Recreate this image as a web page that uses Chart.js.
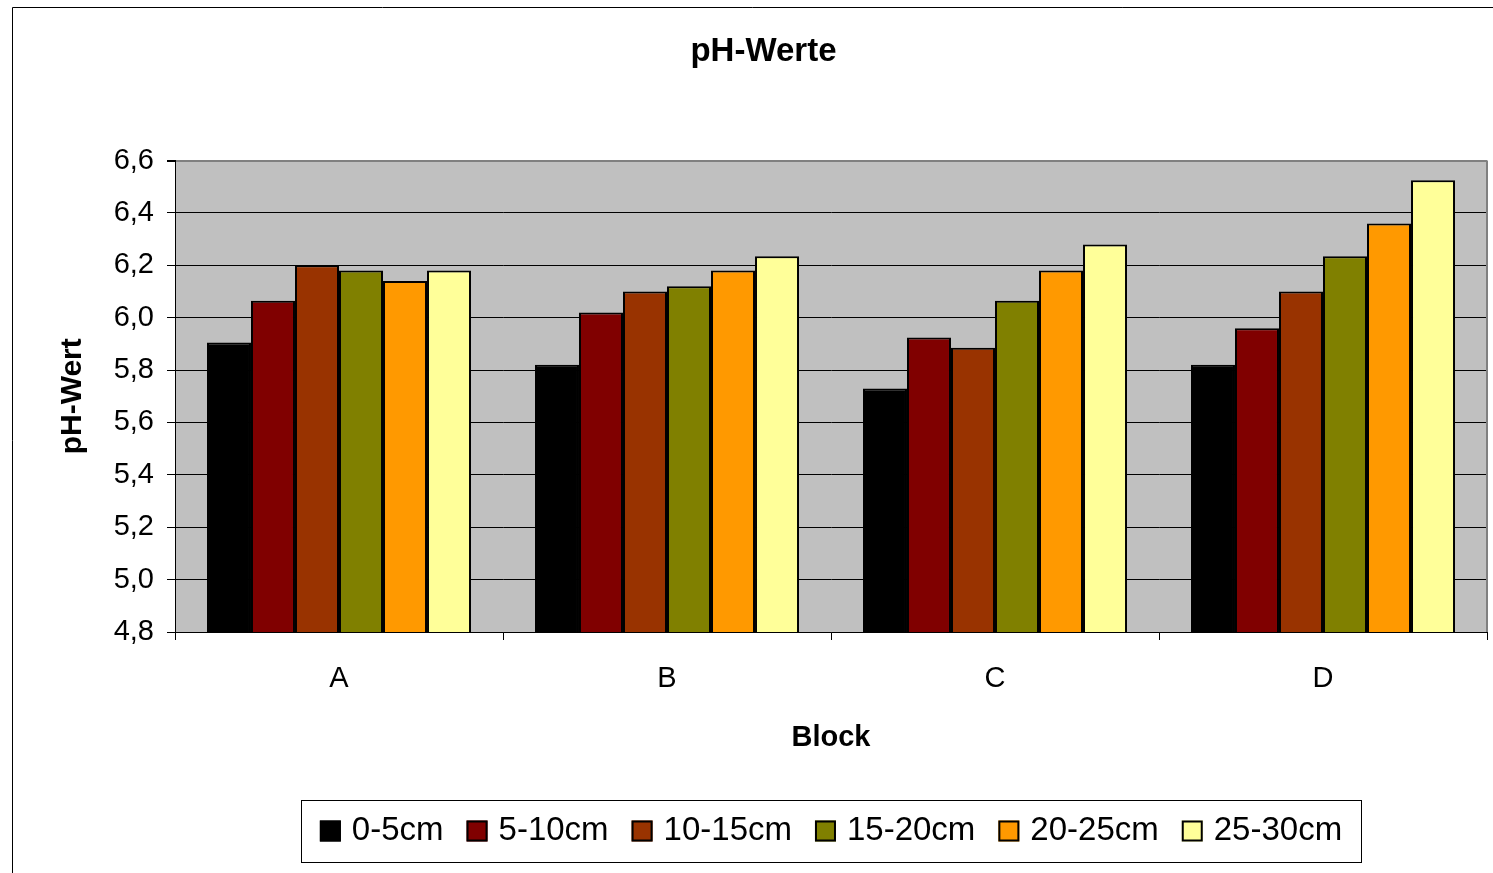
<!DOCTYPE html>
<html lang="de">
<head>
<meta charset="UTF-8">
<title>pH-Werte</title>
<script src="https://cdn.jsdelivr.net/npm/chart.js"></script>
<style>
    body { margin: 0; background: #fff; }
    canvas { display: block; }
</style>
</head>
<body>
<canvas id="phChart" width="1493" height="873"></canvas>
<script>
    const blocks = ['A', 'B', 'C', 'D'];
    const tiefen = ['0-5cm', '5-10cm', '10-15cm', '15-20cm', '20-25cm', '25-30cm'];
    const ph0_5   = [5.905, 5.82, 5.73, 5.82];
    const ph5_10  = [6.065, 6.02, 5.925, 5.96];
    const ph10_15 = [6.20, 6.10, 5.885, 6.10];
    const ph15_20 = [6.18, 6.12, 6.065, 6.235];
    const ph20_25 = [6.14, 6.18, 6.18, 6.36];
    const ph25_30 = [6.18, 6.235, 6.28, 6.525];
    const farben = ['#000000', '#800000', '#993300', '#808000', '#FF9900', '#FFFF99'];

    const FONT = "Arial, 'Liberation Sans', sans-serif";
    const werte = [ph0_5, ph5_10, ph10_15, ph15_20, ph20_25, ph25_30];

    // grauer Hintergrund, Rahmen, eigene Legende
    const rahmenPlugin = {
        id: 'rahmen',
        afterLayout(chart) {
            // Titel sitzt in der Mitte des Rahmens, nicht der Leinwand
            chart.titleBlock.left += 20;
            chart.titleBlock.right += 20;
        },
        beforeDraw(chart) {
            const { ctx, chartArea: a } = chart;
            ctx.save();
            ctx.fillStyle = '#C0C0C0';
            ctx.fillRect(a.left, a.top, a.right - a.left, a.bottom - a.top);
            ctx.restore();
        },
        afterDraw(chart) {
            const { ctx, chartArea: a } = chart;
            ctx.save();
            // rechte Kante der Zeichenfläche
            ctx.strokeStyle = '#808080';
            ctx.lineWidth = 2;
            ctx.beginPath();
            ctx.moveTo(a.right, a.top);
            ctx.lineTo(a.right, a.bottom);
            ctx.stroke();

            // äußerer Rahmen
            ctx.strokeStyle = '#000';
            ctx.lineWidth = 1;
            ctx.beginPath();
            ctx.moveTo(12.5, chart.height);
            ctx.lineTo(12.5, 7.5);
            ctx.lineTo(chart.width, 7.5);
            ctx.stroke();

            // Legende
            const box = { left: 301, top: 800, right: 1361, bottom: 862 };
            ctx.fillStyle = '#fff';
            ctx.fillRect(box.left, box.top, box.right - box.left, box.bottom - box.top);
            ctx.strokeStyle = '#000';
            ctx.strokeRect(box.left + 0.5, box.top + 0.5, box.right - box.left, box.bottom - box.top);

            ctx.font = '33px ' + FONT;
            ctx.textBaseline = 'middle';
            const sq = 21, gap = 11, itemGap = 23;
            const ds = chart.data.datasets;
            let total = 0;
            ds.forEach((d, i) => {
                total += sq + gap + ctx.measureText(d.label).width + (i < ds.length - 1 ? itemGap : 0);
            });
            let x = (box.left + box.right) / 2 - total / 2;
            const cy = (box.top + box.bottom) / 2;
            ds.forEach(d => {
                ctx.fillStyle = d.backgroundColor;
                ctx.fillRect(x, cy - sq / 2, sq, sq);
                ctx.strokeStyle = '#000';
                ctx.lineWidth = 2;
                ctx.strokeRect(x + 1, cy - sq / 2 + 1, sq - 2, sq - 2);
                ctx.fillStyle = '#000';
                ctx.fillText(d.label, x + sq + gap, cy);
                x += sq + gap + ctx.measureText(d.label).width + itemGap;
            });
            ctx.restore();
        }
    };

    const ctx = document.getElementById('phChart').getContext('2d');
    new Chart(ctx, {
        type: 'bar',
        data: {
            labels: blocks,
            datasets: tiefen.map((t, i) => ({
                label: t,
                data: werte[i],
                backgroundColor: farben[i],
                borderColor: '#000',
                borderWidth: 2,
                borderSkipped: 'start'
            }))
        },
        options: {
            responsive: false,
            devicePixelRatio: 1,
            animation: false,
            categoryPercentage: 0.805,
            barPercentage: 1,
            layout: { padding: { left: 0, right: 6, top: 0, bottom: 0 } },
            plugins: {
                legend: { display: false },
                tooltip: { enabled: false },
                title: {
                    display: true,
                    text: 'pH-Werte',
                    color: '#000',
                    font: { family: FONT, size: 33, weight: 'bold' },
                    padding: { top: 32, bottom: 89 }
                }
            },
            scales: {
                y: {
                    min: 4.8,
                    max: 6.6,
                    afterFit(scale) { scale.width = 175; },
                    ticks: {
                        stepSize: 0.2,
                        padding: 13,
                        color: '#000',
                        font: { family: FONT, size: 29 },
                        callback: v => v.toFixed(1).replace('.', ',')
                    },
                    grid: {
                        color: c => (c.tick && Math.abs(c.tick.value - 6.6) < 1e-6) ? '#808080' : '#000',
                        lineWidth: c => (c.tick && Math.abs(c.tick.value - 6.6) < 1e-6) ? 2 : 1,
                        tickColor: '#000',
                        tickLength: 8
                    },
                    border: { color: '#000', width: 1 },
                    title: {
                        display: true,
                        text: 'pH-Wert',
                        color: '#000',
                        font: { family: FONT, size: 30, weight: 'bold' },
                        padding: { top: 55, bottom: 0 }
                    }
                },
                x: {
                    afterFit(scale) { scale.height = 241; },
                    ticks: {
                        padding: 22,
                        color: '#000',
                        font: { family: FONT, size: 29 }
                    },
                    grid: {
                        offset: true,
                        drawOnChartArea: false,
                        color: '#000',
                        tickLength: 8
                    },
                    border: { color: '#000', width: 1 },
                    title: {
                        display: true,
                        text: 'Block',
                        color: '#000',
                        font: { family: FONT, size: 29, weight: 'bold' },
                        padding: { top: 0, bottom: 118 }
                    }
                }
            }
        },
        plugins: [rahmenPlugin]
    });
</script>
</body>
</html>
